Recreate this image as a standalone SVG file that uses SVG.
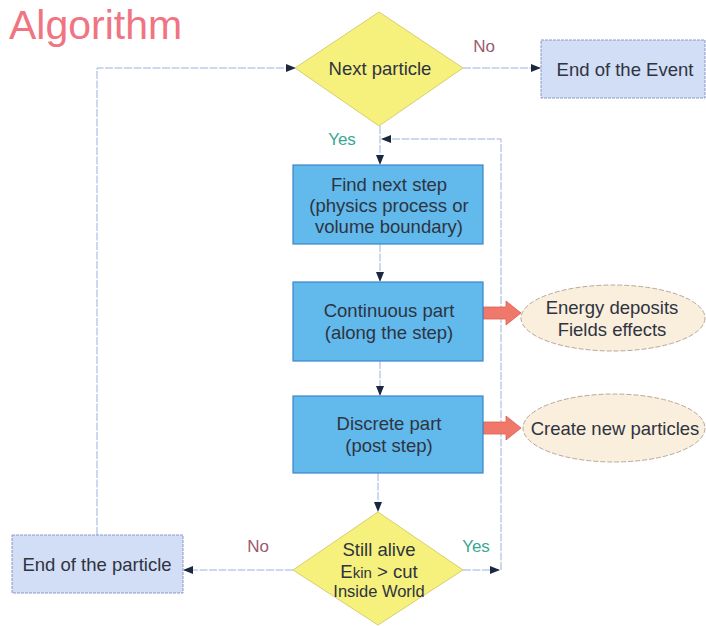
<svg xmlns="http://www.w3.org/2000/svg" width="706" height="626" viewBox="0 0 706 626">
<defs>
<marker id="ah" viewBox="0 0 10 10" refX="9" refY="5" markerWidth="10" markerHeight="10" markerUnits="userSpaceOnUse" orient="auto">
<path d="M0,1 L10,5 L0,9 Z" fill="#1c2840"/>
</marker>
<style>
text{font-family:"Liberation Sans",Arial,sans-serif;fill:#2e3440;text-anchor:middle}
.t{font-size:18.5px}
.s{font-size:16.5px}
.c{fill:none;stroke:#9cb0dc;stroke-width:1;stroke-dasharray:8 1.5}
.dia{fill:#f6f07c;stroke:#d6d070;stroke-width:1}
.blue{fill:#62b9ec;stroke:#3a86cc;stroke-width:1.2}
.end{fill:#d2ddf6;stroke:#8b98c6;stroke-width:1;stroke-dasharray:3 1}
.ell{fill:#faeedd;stroke:#b9a79a;stroke-width:1;stroke-dasharray:5 2}
.red{fill:#f0786a;stroke:#d86050;stroke-width:0.8}
.yes{fill:#3aa892;font-size:17px}
.no{fill:#9a5c6c;font-size:17px}
</style>
</defs>
<text x="9" y="39" style="font-size:41px;fill:#f07482;text-anchor:start">Algorithm</text>
<g id="connectors">
<path class="c" d="M97,535 V68 H295" marker-end="url(#ah)"/>
<path class="c" d="M463,68 H540" marker-end="url(#ah)"/>
<path class="c" d="M380,126 V164" marker-end="url(#ah)"/>
<path class="c" d="M380,244 V281" marker-end="url(#ah)"/>
<path class="c" d="M380,361 V395" marker-end="url(#ah)"/>
<path class="c" d="M378,473 V511" marker-end="url(#ah)"/>
<path class="c" d="M293,570 H184" marker-end="url(#ah)"/>
<path class="c" d="M463,570 H499" marker-end="url(#ah)"/>
<path class="c" d="M501,570 V139 H382" marker-end="url(#ah)"/>
<path class="red" d="M483,307 H506 V301 L521,313 L506,325 V319 H483 Z"/>
<path class="red" d="M483,422 H506 V416 L521,428 L506,440 V434 H483 Z"/>
<text x="484" y="52" class="no">No</text>
<text x="342" y="145" class="yes">Yes</text>
<text x="258" y="552" class="no">No</text>
<text x="476" y="552" class="yes">Yes</text>
</g>
<g id="next-particle">
<path class="dia" d="M379,12 L463,68 L379,126 L295,68 Z"/>
<text x="380" y="75" class="t">Next particle</text>
</g>
<g id="end-event">
<rect class="end" x="541" y="40" width="164" height="58"/>
<text x="625" y="76" class="t">End of the Event</text>
</g>
<g id="find-next-step">
<rect class="blue" x="293" y="165" width="190" height="79"/>
<text x="389" y="191" class="t">Find next step</text>
<text x="389" y="212" class="t">(physics process or</text>
<text x="389" y="233" class="t">volume boundary)</text>
</g>
<g id="continuous">
<rect class="blue" x="293" y="282" width="190" height="79"/>
<text x="389" y="317" class="t">Continuous part</text>
<text x="389" y="339" class="t">(along the step)</text>
</g>
<g id="discrete">
<rect class="blue" x="293" y="396" width="190" height="77"/>
<text x="389" y="430" class="t">Discrete part</text>
<text x="389" y="452" class="t">(post step)</text>
</g>
<g id="energy">
<ellipse class="ell" cx="613" cy="318" rx="92" ry="33"/>
<text x="612" y="314" class="t">Energy deposits</text>
<text x="612" y="336" class="t">Fields effects</text>
</g>
<g id="create">
<ellipse class="ell" cx="614" cy="428" rx="91" ry="34"/>
<text x="615" y="435" class="t">Create new particles</text>
</g>
<g id="still-alive">
<path class="dia" d="M378,512 L463,570 L378,625 L293,570 Z"/>
<text x="379" y="556" class="t">Still alive</text>
<text x="379" y="578" class="t">E<tspan style="font-size:15px">kin</tspan> &gt; cut</text>
<text x="379" y="597" class="s">Inside World</text>
</g>
<g id="end-particle">
<rect class="end" x="12" y="535" width="171" height="58"/>
<text x="97" y="571" class="t">End of the particle</text>
</g>
</svg>
